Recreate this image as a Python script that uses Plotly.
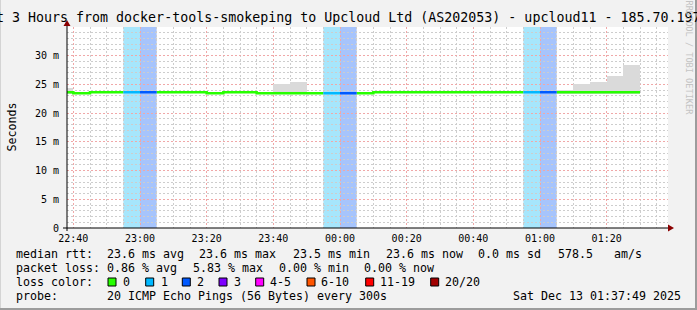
import plotly.graph_objects as go
from datetime import datetime, timedelta

# ---------------- data ----------------
step_end = [
    "2025-12-12 22:40", "2025-12-12 22:45", "2025-12-12 22:50", "2025-12-12 22:55",
    "2025-12-12 23:00", "2025-12-12 23:05", "2025-12-12 23:10", "2025-12-12 23:15",
    "2025-12-12 23:20", "2025-12-12 23:25", "2025-12-12 23:30", "2025-12-12 23:35",
    "2025-12-12 23:40", "2025-12-12 23:45", "2025-12-12 23:50", "2025-12-12 23:55",
    "2025-12-13 00:00", "2025-12-13 00:05", "2025-12-13 00:10", "2025-12-13 00:15",
    "2025-12-13 00:20", "2025-12-13 00:25", "2025-12-13 00:30", "2025-12-13 00:35",
    "2025-12-13 00:40", "2025-12-13 00:45", "2025-12-13 00:50", "2025-12-13 00:55",
    "2025-12-13 01:00", "2025-12-13 01:05", "2025-12-13 01:10", "2025-12-13 01:15",
    "2025-12-13 01:20", "2025-12-13 01:25", "2025-12-13 01:30",
]
median_ms = [
    23.64, 23.47, 23.64, 23.64, 23.64, 23.64, 23.64, 23.64,
    23.64, 23.47, 23.64, 23.64, 23.47, 23.47, 23.47, 23.47,
    23.47, 23.47, 23.47, 23.64, 23.64, 23.64, 23.64, 23.64,
    23.64, 23.64, 23.64, 23.64, 23.64, 23.64, 23.64, 23.64,
    23.64, 23.64, 23.64,
]
loss_pings = [
    0, 0, 0, 0, 1, 2, 0, 0, 0, 0, 0, 0, 0, 0, 0, 0,
    1, 2, 0, 0, 0, 0, 0, 0, 0, 0, 0, 0, 1, 2, 0, 0,
    0, 0, 0,
]
smoke_lo = [
    23.4, None, None, None, None, None, None, None, None, None, None, None,
    None, 23.4, 23.4, None, None, None, None, None, None, None, None, None,
    None, None, None, None, None, None, 23.4, 23.4, 23.4, 23.4, 23.4,
]
smoke_hi = [
    24.4, None, None, None, None, None, None, None, None, None, None, None,
    None, 25.1, 25.5, None, None, None, None, None, None, None, None, None,
    None, None, None, None, None, None, 24.1, 25.1, 25.5, 26.5, 28.3,
]

y_tickvals = [0, 5, 10, 15, 20, 25, 30]
y_ticktext = ["0", "5 m", "10 m", "15 m", "20 m", "25 m", "30 m"]

loss_labels = ["0", "1", "2", "3", "4-5", "6-10", "11-19", "20/20"]
loss_colors = ["#26ff00", "#00b8ff", "#0059ff", "#7e00ff", "#ff00ff", "#ff5500", "#ff0000", "#a10000"]
band_colors = {1: "#a6e6fc", 2: "#a6c4fc"}

rtt_stats = ["23.6 ms avg", "23.6 ms max", "23.5 ms min", "23.6 ms now", "0.0 ms sd", "578.5", "am/s"]
loss_stats = ["0.86 % avg", "5.83 % max", "0.00 % min", "0.00 % now"]
probe_text = "20 ICMP Echo Pings (56 Bytes) every 300s"
date_text = "Sat Dec 13 01:37:49 2025"
title_text = "Last 3 Hours from docker-tools-smokeping to Upcloud Ltd (AS202053) - upcloud11 - 185.70.197"

# ---------------- geometry ----------------
W, H = 697, 310
L, R, T, B = 67, 668, 27, 228
PW, PH = R - L, B - T


def px(x):
    return (x - L) / PW


def py(y):
    return (B - y) / PH


ends = [datetime.strptime(s, "%Y-%m-%d %H:%M") for s in step_end]
starts = [e - timedelta(minutes=5) for e in ends]

fig = go.Figure()

# smoke
sx, sb, sh = [], [], []
for s, e, lo, hi in zip(starts, ends, smoke_lo, smoke_hi):
    if lo is not None and hi is not None:
        sx.append(s + (e - s) / 2)
        sb.append(lo)
        sh.append(hi - lo)
fig.add_trace(go.Bar(x=sx, y=sh, base=sb, width=300000, marker=dict(color="#dadada", line=dict(width=0)),
                     showlegend=False, hoverinfo="skip"))

# median line coloured by loss
for bucket, col in [(0, loss_colors[0]), (1, loss_colors[1]), (2, loss_colors[2])]:
    xs, ys = [], []
    for s, e, m, lp in zip(starts, ends, median_ms, loss_pings):
        if lp == bucket:
            xs += [s, e]
            ys += [m, m]
        else:
            if xs and xs[-1] is not None:
                xs.append(None)
                ys.append(None)
    fig.add_trace(go.Scatter(x=xs, y=ys, mode="lines", line=dict(color=col, width=2.5),
                             showlegend=False, hoverinfo="skip", connectgaps=False))

shapes = []
# loss bands
for s, e, lp in zip(starts, ends, loss_pings):
    if lp > 0:
        shapes.append(dict(type="rect", xref="x", yref="paper", x0=s, x1=e, y0=0, y1=1,
                           fillcolor=band_colors.get(lp, "#cccccc"), line=dict(width=0), layer="below"))

# frame
shapes += [
    dict(type="rect", xref="paper", yref="paper", x0=px(0), x1=px(W), y0=py(H - 2), y1=py(H),
         fillcolor="#9c9c9c", line=dict(width=0), layer="above"),
    dict(type="rect", xref="paper", yref="paper", x0=px(W - 2), x1=px(W), y0=py(H), y1=py(0),
         fillcolor="#9c9c9c", line=dict(width=0), layer="above"),
    dict(type="rect", xref="paper", yref="paper", x0=px(0), x1=px(1), y0=py(H - 2), y1=py(0),
         fillcolor="#d4d4d4", line=dict(width=0), layer="above"),
]
# axis extensions and arrows
shapes += [
    dict(type="line", xref="paper", yref="paper", x0=px(L), x1=px(L), y0=py(B + 3), y1=py(22),
         line=dict(color="black", width=1)),
    dict(type="line", xref="paper", yref="paper", x0=px(L - 4), x1=px(R + 2), y0=py(B), y1=py(B),
         line=dict(color="black", width=1)),
    dict(type="path", xref="paper", yref="paper",
         path=f"M {px(L-3.5)},{py(26)} L {px(L+3.5)},{py(26)} L {px(L)},{py(20)} Z",
         fillcolor="#8b0000", line=dict(width=0)),
    dict(type="path", xref="paper", yref="paper",
         path=f"M {px(R)},{py(B-3.5)} L {px(R)},{py(B+3.5)} L {px(R+6)},{py(B)} Z",
         fillcolor="#8b0000", line=dict(width=0)),
]

ann = []
MONO = "DejaVu Sans Mono"


def txt(x, y, s, size=11.63, color="black", anchor="left", angle=0):
    ann.append(dict(x=px(x), y=py(y), xref="paper", yref="paper", text=s, showarrow=False,
                    xanchor=anchor, yanchor="middle", textangle=angle, borderpad=0, borderwidth=0,
                    font=dict(family=MONO, size=size, color=color)))


# title
txt(-28.4, 17.2, title_text, size=13.3)
# watermark
txt(688.5, 58, "RRDTOOL / TOBI OETIKER", size=8.6, color="#c4c4c4", anchor="center", angle=90)
# y label
txt(11, 127.5, "Seconds", anchor="center", angle=-90)

# legend lines
y1, y2, y3, y4 = 254.3, 268.3, 282.3, 296.3
txt(15.5, y1, "median rtt:")
for xx, s in zip([106.5, 199.2, 292.5, 385.9, 478.5, 557.5, 613.8], rtt_stats):
    txt(xx, y1, s)
txt(15.5, y2, "packet loss:")
for xx, s in zip([106.5, 192.5, 278.5, 364.2], loss_stats):
    txt(xx, y2, s)
txt(15.5, y3, "loss color:")
box_x = [108, 145.7, 182.3, 219, 255.7, 307, 365.7, 430.7]
lab_x = [123.3, 161, 197, 234.3, 270, 321, 380, 445]
for bx, lx, lab, col in zip(box_x, lab_x, loss_labels, loss_colors):
    shapes.append(dict(type="rect", xref="paper", yref="paper", x0=px(bx), x1=px(bx + 8),
                       y0=py(286), y1=py(278), fillcolor=col, line=dict(color="black", width=1)))
    txt(lx, y3, lab)
txt(15.5, y4, "probe:")
txt(106.5, y4, probe_text)
txt(512.5, y4, date_text)

GRID_MAJ = "#f0a8a8"
GRID_MIN = "#cdcdcd"
DASH = "2px,2px"
fig.update_layout(
    width=W, height=H, autosize=False,
    margin=dict(l=L, r=W - R, t=T, b=H - B, pad=0),
    paper_bgcolor="#f2f2f2", plot_bgcolor="white",
    showlegend=False, bargap=0,
    shapes=shapes, annotations=ann,
    xaxis=dict(
        type="date",
        range=["2025-12-12 22:38:06", "2025-12-13 01:38:24"],
        tick0="2025-12-12 22:40", dtick=1200000, tickformat="%H:%M",
        showgrid=True, gridcolor=GRID_MAJ, griddash=DASH, gridwidth=1,
        minor=dict(dtick=300000, tick0="2025-12-12 22:40", showgrid=True, gridcolor=GRID_MIN,
                   griddash=DASH, gridwidth=1),
        showline=False, zeroline=False, ticks="",
        tickfont=dict(family=MONO, size=10, color="black"),
        ticklabelstandoff=3, fixedrange=True,
    ),
    yaxis=dict(
        range=[0, 35], tickvals=y_tickvals, ticktext=y_ticktext,
        showgrid=True, gridcolor=GRID_MAJ, griddash=DASH, gridwidth=1,
        minor=dict(dtick=1, tick0=0, showgrid=True, gridcolor=GRID_MIN, griddash=DASH, gridwidth=1),
        showline=False, zeroline=False, ticks="",
        tickfont=dict(family=MONO, size=10, color="black"),
        ticklabelstandoff=7, fixedrange=True,
    ),
)

fig.write_html("out.html")
